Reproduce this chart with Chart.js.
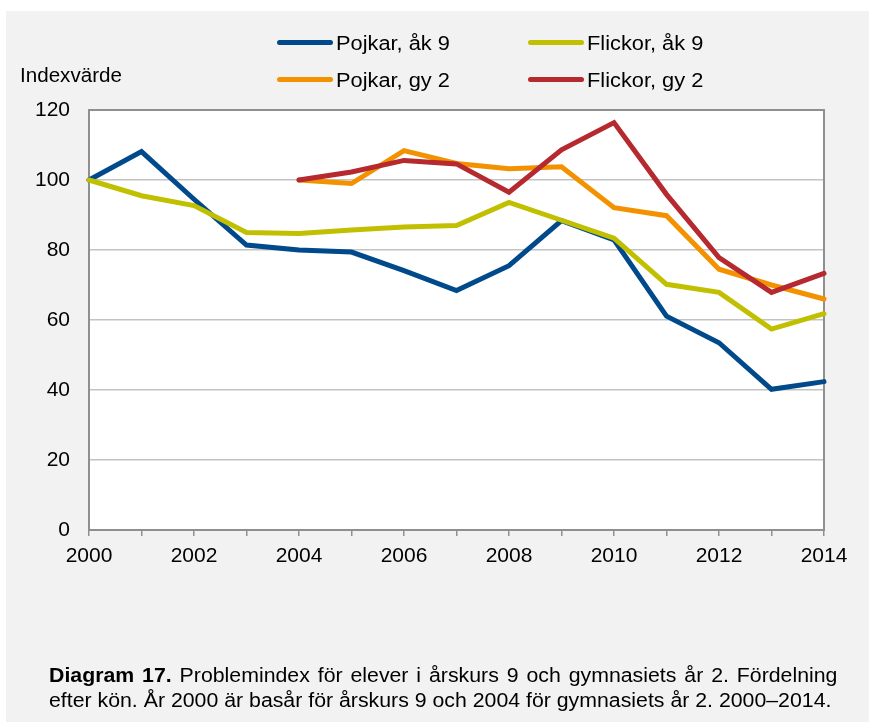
<!DOCTYPE html>
<html>
<head>
<meta charset="utf-8">
<script src="https://cdn.jsdelivr.net/npm/chart.js@4.4.1/dist/chart.umd.min.js"></script>
<style>
  html, body { margin: 0; padding: 0; background: #ffffff; }
  body { width: 869px; height: 722px; position: relative; overflow: hidden;
         font-family: "Liberation Sans", Arial, sans-serif; color: #000; }
  #panel { position: absolute; left: 6px; top: 11px; width: 863px; height: 711px; background: #f2f2f2; }
  #chart { position: absolute; left: 0; top: 0; }
  .leg { position: absolute; height: 20px; }
  .sw { position: absolute; left: 0; width: 56px; height: 5px; border-radius: 2.5px; }
  .lt { position: absolute; left: 59px; font-size: 20px; line-height: 20px; white-space: nowrap;
        transform: scaleX(1.09); transform-origin: 0 0; }
  #ylab { position: absolute; left: 20px; top: 65px; font-size: 20px; line-height: 20px; white-space: nowrap;
          transform: scaleX(1.03); transform-origin: 0 0; }
  #cap { position: absolute; left: 49px; top: 663px; font-size: 19.5px; line-height: 25px;
         transform: scaleX(1.092); transform-origin: 0 0; }
  #cap .l1 { width: 722px; text-align: justify; text-align-last: justify; white-space: nowrap; }
  #cap .l2 { white-space: nowrap; }
</style>
</head>
<body>
<div id="panel"></div>
<canvas id="chart" width="869" height="722"></canvas>
<div id="ylab">Indexvärde</div>
<div id="legend"></div>
<div id="cap"><div class="l1"><b>Diagram 17.</b> Problemindex för elever i årskurs 9 och gymnasiets år 2. Fördelning</div><div class="l2">efter kön. År 2000 är basår för årskurs 9 och 2004 för gymnasiets år 2. 2000–2014.</div></div>
<script>
const years = ['2000','2001','2002','2003','2004','2005','2006','2007','2008','2009','2010','2011','2012','2013','2014'];
const seriesNames = ['Pojkar, åk 9', 'Flickor, åk 9', 'Pojkar, gy 2', 'Flickor, gy 2'];
const pojkarAk9  = [100, 108.1, 94.5, 81.4, 80.0, 79.4, 74.1, 68.4, 75.5, 88.4, 82.9, 61.1, 53.5, 40.2, 42.4];
const flickorAk9 = [100, 95.5, 92.7, 85.0, 84.7, 85.7, 86.6, 87.0, 93.6, 88.5, 83.4, 70.2, 67.9, 57.4, 61.8];
const pojkarGy2  = [null, null, null, null, 100, 99.0, 108.4, 104.7, 103.2, 103.8, 92.1, 89.8, 74.5, 70.0, 66.0];
const flickorGy2 = [null, null, null, null, 100, 102.3, 105.6, 104.6, 96.5, 108.6, 116.4, 95.9, 77.8, 67.9, 73.3];
const yTicks = [0, 20, 40, 60, 80, 100, 120];

const colors = ['#004a8c', '#c0c000', '#f39200', '#b5292f'];
const values = [pojkarAk9, flickorAk9, pojkarGy2, flickorGy2];

// HTML legend (2x2)
const legPos = [[277, 32], [528, 32], [277, 69], [528, 69]];
const legend = document.getElementById('legend');
seriesNames.forEach((n, i) => {
  const d = document.createElement('div');
  d.className = 'leg';
  d.style.left = legPos[i][0] + 'px';
  d.style.top = legPos[i][1] + 'px';
  d.innerHTML = '<div class="sw" style="top:8px;background:' + colors[i] + '"></div><div class="lt" style="top:1px">' + n + '</div>';
  legend.appendChild(d);
});

const framePlugin = {
  id: 'frame',
  beforeDraw(chart) {
    const a = chart.chartArea, c = chart.ctx;
    c.save();
    c.fillStyle = '#ffffff';
    c.fillRect(a.left, a.top, a.right - a.left, a.bottom - a.top);
    c.restore();
  },
  beforeDatasetsDraw(chart) {
    const a = chart.chartArea, c = chart.ctx;
    c.save();
    c.strokeStyle = '#8f8f8f';
    c.lineWidth = 2;
    c.strokeRect(a.left, a.top, a.right - a.left, a.bottom - a.top);
    c.restore();
  }
};

new Chart(document.getElementById('chart'), {
  type: 'line',
  data: {
    labels: years,
    datasets: seriesNames.map((n, i) => ({
      label: n,
      data: values[i],
      borderColor: colors[i],
      backgroundColor: colors[i],
      borderWidth: 5,
      pointRadius: 0,
      tension: 0,
      borderCapStyle: 'round',
      borderJoinStyle: 'miter',
      clip: false,
      order: 4 - i
    }))
  },
  options: {
    responsive: false,
    animation: false,
    layout: { padding: { left: 0, top: 110, right: 45, bottom: 152 } },
    plugins: { legend: { display: false }, tooltip: { enabled: false }, title: { display: false } },
    scales: {
      x: {
        type: 'category',
        offset: false,
        border: { display: false },
        grid: { drawOnChartArea: false, drawTicks: true, tickLength: 6, color: '#8f8f8f', tickColor: '#8f8f8f', lineWidth: 1.5 },
        ticks: {
          autoSkip: false, maxRotation: 0, minRotation: 0, padding: 8,
          color: '#000', font: { family: 'Liberation Sans', size: 21 },
          callback: function(v, i) { const l = this.getLabelForValue(v); return (parseInt(l) % 2 === 0) ? l : ''; }
        },
        afterFit(s) { s.height = 40; }
      },
      y: {
        min: 0, max: 120,
        border: { display: false },
        grid: { drawTicks: false, color: '#c3c3c3', lineWidth: 1.5 },
        afterBuildTicks(s) { s.ticks = yTicks.map(v => ({ value: v })); },
        ticks: { padding: 19, color: '#000', font: { family: 'Liberation Sans', size: 21 } },
        afterFit(s) { s.width = 89; }
      }
    }
  },
  plugins: [framePlugin]
});
</script>
</body>
</html>
